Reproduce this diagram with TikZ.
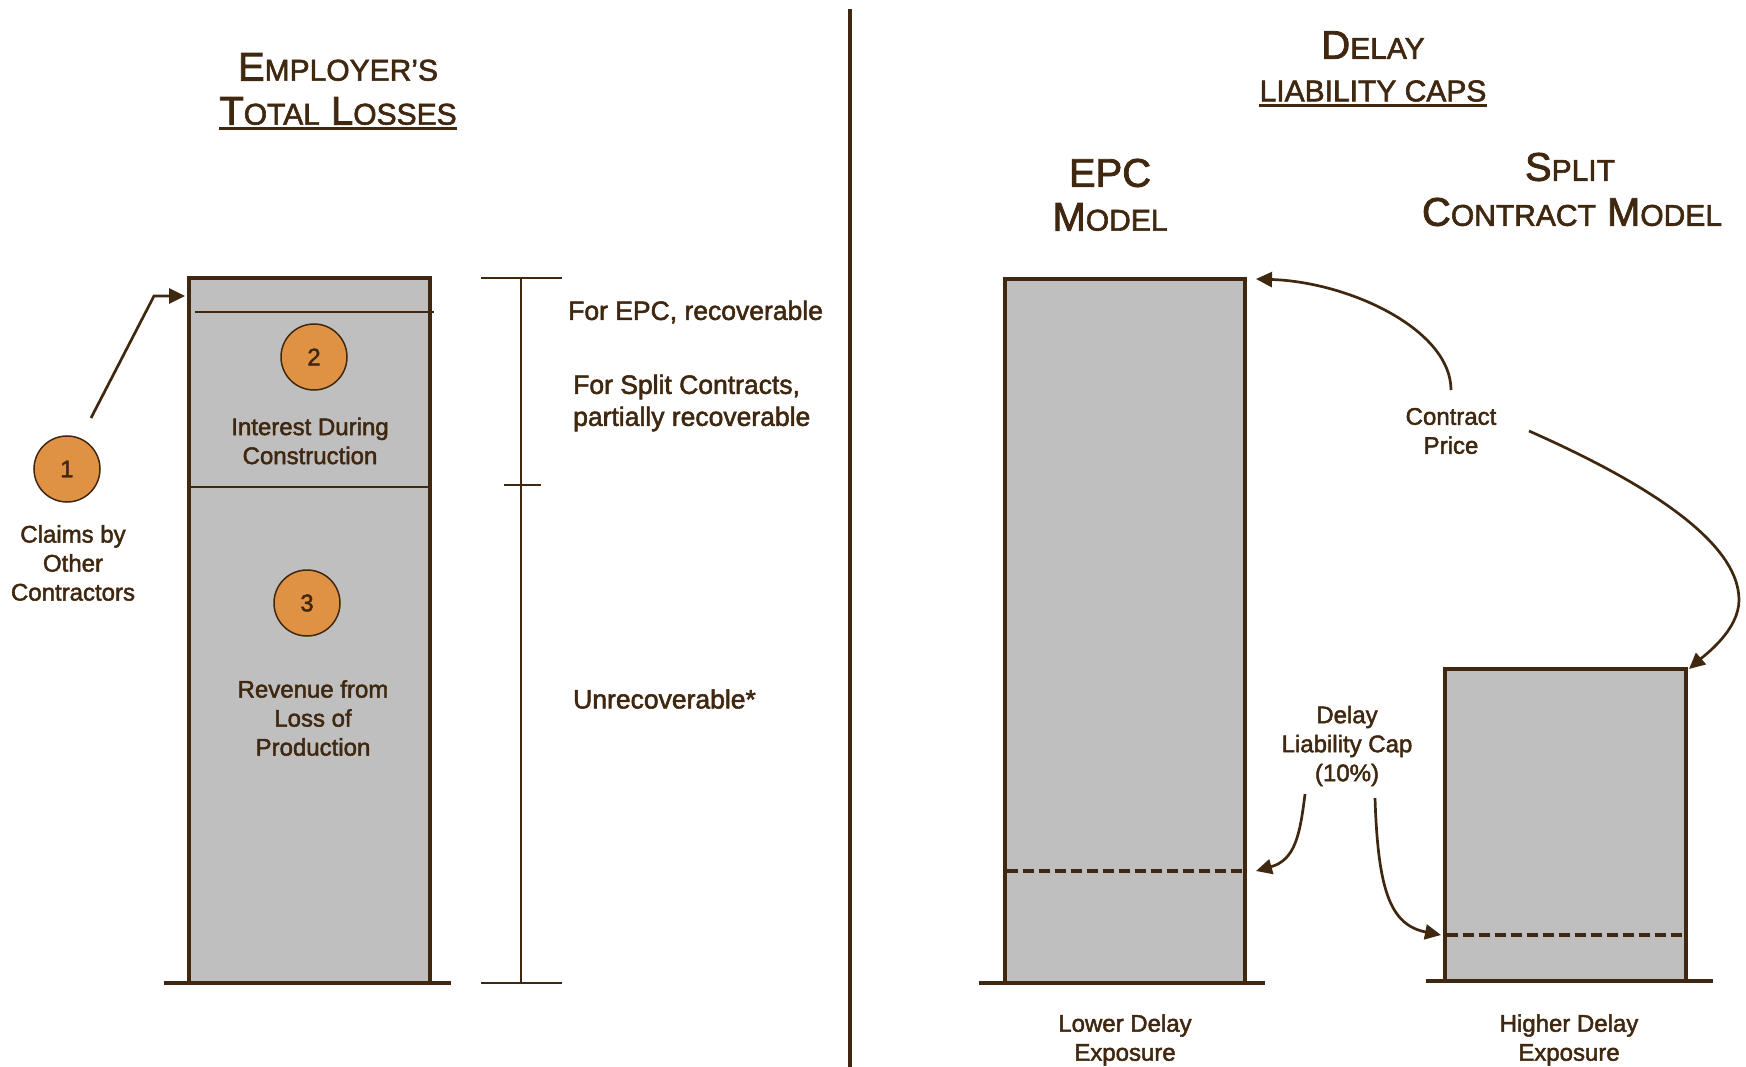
\documentclass[tikz,border=0pt]{standalone}
\usepackage{fontspec}
\setmainfont{Liberation Sans}[BoldFont={Liberation Sans},BoldFeatures={FakeBold=2}]
\usetikzlibrary{arrows.meta}
\definecolor{ink}{RGB}{64,40,16}
\definecolor{barfill}{RGB}{191,191,191}
\definecolor{dotfill}{RGB}{224,146,68}
\newcommand\smL[1]{{\fontsize{30}{44}\selectfont #1}}
\begin{document}
\begin{tikzpicture}[x=1pt,y=-1pt,
  every node/.style={text=ink, font=\bfseries\fontsize{24}{29}\selectfont, align=center, inner sep=0pt},
  title/.style={font=\bfseries\fontsize{40}{44.5}\selectfont},
  note/.style={font=\bfseries\fontsize{26.5}{32}\selectfont, align=left, anchor=west},
  bar/.style={draw=ink, fill=barfill, line width=3.5pt},
  ground/.style={draw=ink, line width=3.5pt},
  thinline/.style={draw=ink, line width=2.4pt},
  capline/.style={draw=ink, line width=4.5pt, dash pattern=on 11pt off 5pt},
  num/.style={circle, draw=ink, line width=1.5pt, fill=dotfill, minimum size=66pt, font=\bfseries\fontsize{24}{28}\selectfont},
  arr/.style={draw=ink, line width=2.7pt, -{Triangle[length=16pt,width=15pt]}},
  ]
\useasboundingbox (0,0) rectangle (1746,1067);

% ---------------- left half ----------------
\node[title] (tl1) at (338,67) {E\smL{MPLOYER’S}};
\node[title] (tl2) at (338,111) {T\smL{OTAL} L\smL{OSSES}};
\draw[thinline] ([yshift=-4pt]tl2.base west) -- ([yshift=-4pt]tl2.base east);

\draw[bar] (189,983) rectangle (430,278);
\draw[thinline] (195,312) -- (434,312);
\draw[thinline] (189,487) -- (430,487);
\draw[ground] (164,983) -- (451,983);

\node[num] (n1) at (67,469) {1};
\node[num] (n2) at (314,357) {2};
\node[num] (n3) at (307,603) {3};
\node (claims) at (73,563) {Claims by\\Other\\Contractors};
\node (idc) at (310,441) {Interest During\\Construction};
\node (rev) at (313,718) {Revenue from\\Loss of\\Production};

\coordinate (a1s) at (91,418);
\coordinate (a1m) at (154,296);
\coordinate (a1e) at (185,296);
\draw[arr] (a1s) -- (a1m) -- (a1e);

% bracket
\coordinate (brt) at (521,278);
\coordinate (brm) at (521,485);
\coordinate (brb) at (521,983);
\draw[thinline] (brt) -- (brb);
\draw[thinline] ([xshift=-40pt]brt) -- ([xshift=41pt]brt);
\draw[thinline] ([xshift=-17pt]brm) -- ([xshift=20pt]brm);
\draw[thinline] ([xshift=-40pt]brb) -- ([xshift=41pt]brb);

\node[note] (epcrec) at (568,312) {For EPC, recoverable};
\node[note] (splitrec) at (573,403) {For Split Contracts,\\partially recoverable};
\node[note] (unrec) at (573,699) {Unrecoverable*};

% divider
\draw[ink, line width=4.5pt] (850,9) -- (850,1067);

% ---------------- right half ----------------
\node[title] (tr1) at (1373,45) {D\smL{ELAY}};
\node[title] (tr2) at (1373,91) {\smL{LIABILITY CAPS}};
\draw[thinline] ([yshift=-4pt]tr2.base west) -- ([yshift=-4pt]tr2.base east);

\node[title] (epct) at (1110,173) {EPC};
\node[title] (epcm) at (1110,217) {M\smL{ODEL}};
\node[title] (splt) at (1570,167) {S\smL{PLIT}};
\node[title] (splm) at (1572,212) {C\smL{ONTRACT} M\smL{ODEL}};

\draw[bar] (1005,983) rectangle (1245,279);
\draw[capline] (1007,871) -- (1243,871);
\draw[ground] (979,983) -- (1265,983);

\draw[bar] (1445,981) rectangle (1686,669);
\draw[capline] (1447,935) -- (1684,935);
\draw[ground] (1426,981) -- (1713,981);

\node (cp) at (1451,431) {Contract\\Price};
\node (dlc) at (1347,746) {Delay\\Liability Cap\\(10\%)};
\node (lde) at (1125,1040) {Lower Delay\\Exposure};
\node (hde) at (1569,1040) {Higher Delay\\Exposure};

\coordinate (cpa) at (1451,390);
\coordinate (cpb) at (1529,431);
\coordinate (epctop) at (1256,279);
\coordinate (splittop) at (1689,669);
\coordinate (dla) at (1305,794);
\coordinate (dlb) at (1375,798);
\coordinate (epccap) at (1256,871);
\coordinate (splitcap) at (1441,935);

\draw[arr] (cpa) .. controls (1451,330) and (1350,282) .. (epctop);
\draw[arr] (cpb) .. controls (1640,480) and (1739,540) .. (1739,600)
               .. controls (1739,630) and (1705,655) .. (splittop);
\draw[arr] (dla) .. controls (1300,835) and (1295,860) .. (epccap);
\draw[arr] (dlb) .. controls (1378,890) and (1390,925) .. (splitcap);
\end{tikzpicture}
\end{document}
